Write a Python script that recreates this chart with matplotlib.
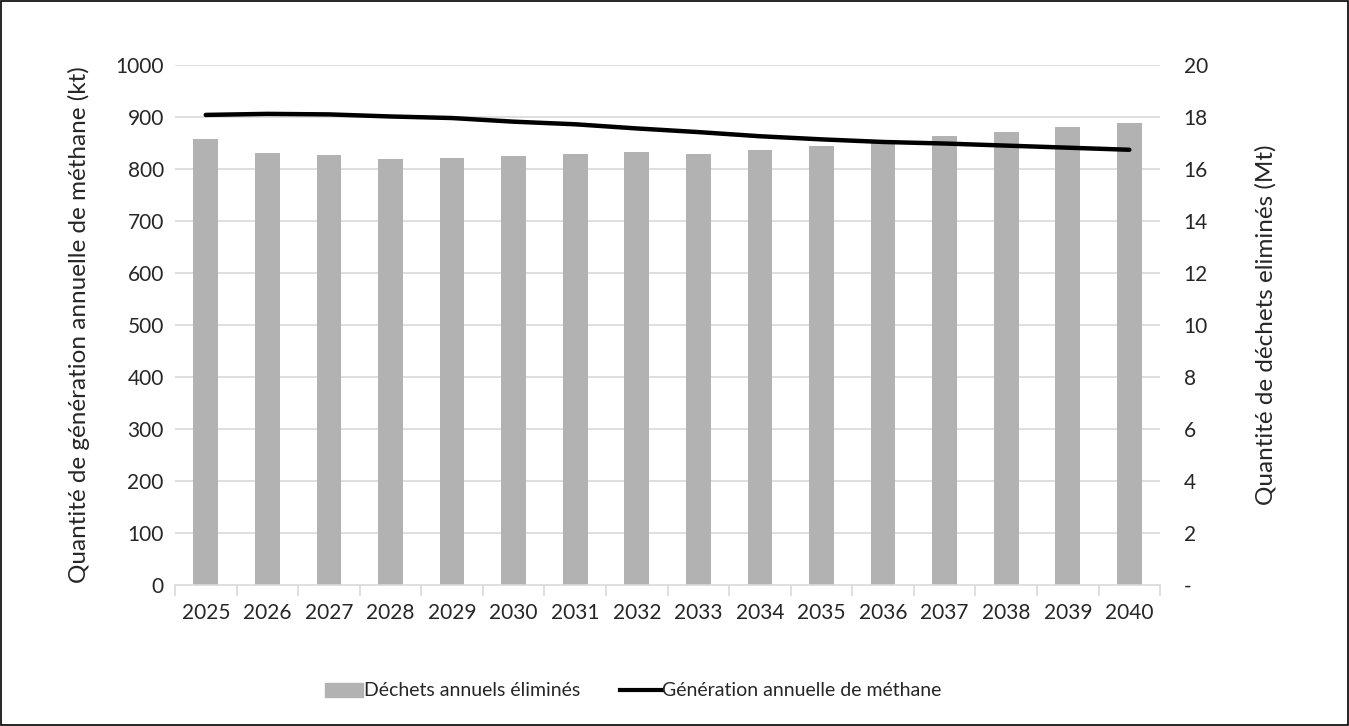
import matplotlib
matplotlib.use("Agg")
import matplotlib.pyplot as plt
from matplotlib.patches import Rectangle
import numpy as np

plt.rcParams['font.family'] = ['Lato', 'DejaVu Sans']

years = ["2025", "2026", "2027", "2028", "2029", "2030", "2031", "2032",
         "2033", "2034", "2035", "2036", "2037", "2038", "2039", "2040"]
# Annual waste disposed (Mt) - right axis
waste_mt = [17.15, 16.6, 16.54, 16.38, 16.42, 16.5, 16.58, 16.64,
            16.58, 16.72, 16.9, 17.06, 17.27, 17.42, 17.6, 17.78]
# Annual methane generation (kt) - left axis
methane_kt = [904, 906, 905, 901, 898, 891, 886, 878,
              871, 863, 857, 852, 849, 845, 841, 837]

left_ticks = list(range(0, 1001, 100))
right_ticks = list(range(0, 21, 2))
right_tick_labels = ["-"] + [str(v) for v in right_ticks[1:]]

fig = plt.figure(figsize=(13.49, 7.26), dpi=100)
ax = fig.add_axes([0.1297, 0.194, 0.7303, 0.7165])
ax2 = ax.twinx()

x = np.arange(len(years))
grid_c = "#d9d9d9"
text_c = "#262626"
tick_fs = 15

# Bars on the secondary axis, drawn beneath the line
ax2.bar(x, waste_mt, width=0.4, color="#b2b2b2", zorder=2)
ax2.set_ylim(0, 20)
ax2.set_yticks(right_ticks)
ax2.set_yticklabels(right_tick_labels)

ax.set_zorder(ax2.get_zorder() + 1)
ax.patch.set_visible(False)
ax.plot(x, methane_kt, color="black", lw=3.2, solid_capstyle="round", zorder=3)
ax.set_ylim(0, 1000)
ax.set_yticks(left_ticks)
ax.set_xlim(-0.5, len(years) - 0.5)

for v in left_ticks[1:]:
    ax2.axhline(v / 50, color=grid_c, lw=1.2, zorder=0)

# Category boundaries as ticks, labels centred
ax.set_xticks(np.arange(-0.5, len(years), 1.0))
ax.set_xticklabels([])
ax.set_xticks(x, minor=True)
ax.set_xticklabels(years, minor=True)
ax.tick_params(axis="x", which="major", length=8, color=grid_c, width=1.2)
ax.tick_params(axis="x", which="minor", length=0, pad=13, labelsize=tick_fs, labelcolor=text_c)
ax.tick_params(axis="y", length=0, pad=8, labelsize=tick_fs, labelcolor=text_c)
ax2.tick_params(axis="y", length=0, pad=17, labelsize=tick_fs, labelcolor=text_c)

for a in (ax, ax2):
    for side in ("top", "left", "right"):
        a.spines[side].set_visible(False)
ax2.spines["bottom"].set_visible(False)
ax.spines["bottom"].set_color(grid_c)
ax.spines["bottom"].set_linewidth(1.2)

ax.set_ylabel("Quantité de génération annuelle de méthane (kt)", fontsize=17.5,
              color=text_c, labelpad=18)
ax2.set_ylabel("Quantité de déchets eliminés (Mt)", fontsize=17.5,
               color=text_c, labelpad=34)

# Legend
fig.patches.append(Rectangle((325 / 1349, 1 - 697 / 726), 38 / 1349, 14 / 726,
                             transform=fig.transFigure, color="#b2b2b2"))
fig.text(364 / 1349, 1 - 690 / 726, "Déchets annuels éliminés", fontsize=14,
         color=text_c, va="center", ha="left")
fig.add_artist(plt.Line2D([620 / 1349, 662 / 1349], [1 - 690 / 726, 1 - 690 / 726],
                          transform=fig.transFigure, color="black", lw=3))
fig.text(662 / 1349, 1 - 690 / 726, "Génération annuelle de méthane", fontsize=14,
         color=text_c, va="center", ha="left")

# Outer frame
fig.patches.append(Rectangle((0.001, 0.0015), 0.998, 0.997, transform=fig.transFigure,
                             fill=False, edgecolor="black", lw=1.2))

fig.savefig("out.png", dpi=100)
